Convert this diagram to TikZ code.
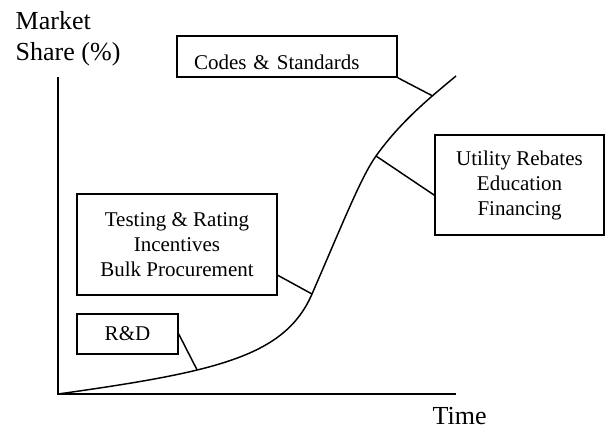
\documentclass[tikz,border=0pt]{standalone}
\usepackage{fontspec}
\setmainfont{Liberation Serif}
\usetikzlibrary{calc}
\begin{document}
\begin{tikzpicture}[x=0.75pt,y=-0.75pt,line width=1.1pt,
  boxnode/.style={draw, rectangle, inner sep=0pt, align=center,
    font=\fontsize{15.75}{18.75}\selectfont},
  axislabel/.style={inner sep=0pt, align=left,
    font=\fontsize{19.5}{23.25}\selectfont},
  leader/.style={line width=1.1pt},
  axisline/.style={line width=1.3pt},
  scurve/.style={line width=1.1pt}]
\useasboundingbox (0,0) rectangle (605,429);

% axes
\coordinate (ytop) at (58,77);
\coordinate (o) at (58,394);
\coordinate (xend) at (456,394);
\draw[axisline] (ytop) -- (o) -- (xend);

\node[axislabel, anchor=base west] (ylab) at (15,60) {Market\\Share (\%)};
\node[axislabel, anchor=base west] (xlab) at (432,424) {Time};

% adoption curve: slow start, steep rise, levelling off
\coordinate (c2) at (312,294);
\coordinate (c3) at (376,156);
\coordinate (cend) at (456,76);
\draw[scurve] (o) .. controls (218,371.6) and (285,356.1) ..
    coordinate[pos=0.36] (c1) (c2)
  .. controls (342,225) and (361,177) .. (c3)
  .. controls (401,121) and (431,96.75) ..
    coordinate[pos=0.7] (c4) (cend);

% program boxes
\node[boxnode, text width=139.5pt, inner xsep=12.75pt, align=left,
  minimum height=30.75pt, text height=18.8pt, text depth=0pt]
  (codes) at (287,56.5) {Codes \& Standards};
\node[boxnode, minimum width=126.75pt, minimum height=75pt]
  (util) at (519.5,185) {Utility Rebates\\Education\\Financing};
\node[boxnode, minimum width=150pt, minimum height=75.75pt]
  (test) at (177,244.5) {Testing \& Rating\\Incentives\\Bulk Procurement};
\node[boxnode, minimum width=75.75pt, minimum height=30pt]
  (rd) at (127.5,334) {R\&D};

% leaders from boxes to the curve
\draw[leader] (rd.east) -- (c1);
\draw[leader] ($(test.south east)!0.2!(test.north east)$) -- (c2);
\draw[leader] ($(util.south west)!0.4!(util.north west)$) -- (c3);
\draw[leader] (codes.south east) -- (c4);
\end{tikzpicture}
\end{document}
